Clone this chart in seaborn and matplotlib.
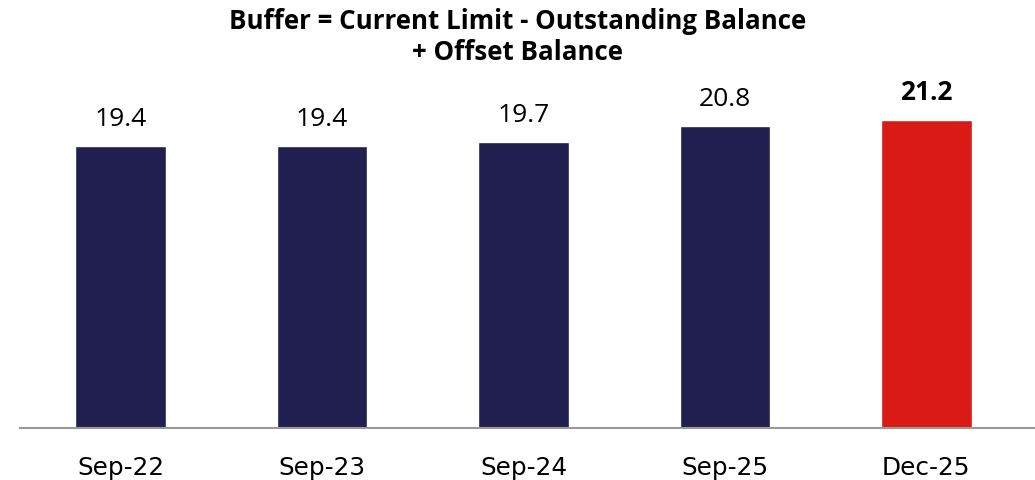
import matplotlib
matplotlib.use("Agg")
import matplotlib.pyplot as plt
import seaborn as sns
import pandas as pd

categories = ["Sep-22", "Sep-23", "Sep-24", "Sep-25", "Dec-25"]
values = [19.4, 19.4, 19.7, 20.8, 21.2]
labels = ["19.4", "19.4", "19.7", "20.8", "21.2"]
title_lines = ["Buffer = Current Limit - Outstanding Balance", "+ Offset Balance"]

sns.set_style("white")
plt.rcParams['font.family'] = ['Open Sans', 'DejaVu Sans']

navy = "#201F4F"
red = "#DA1A14"
colors = [navy, navy, navy, navy, red]

df = pd.DataFrame({"cat": categories, "val": values})

fig = plt.figure(figsize=(10.35, 4.8), dpi=100)
ax = fig.add_axes([20/1035, 52/480, 1 - 20/1035, (428-60)/480])
sns.barplot(data=df, x="cat", y="val", hue="cat", palette=colors, legend=False,
            width=0.45, saturation=1, ax=ax)

ymax = (428 - 60) / (282 / 19.4)
ax.set_ylim(0, ymax)
ax.set_xlim(-0.5, 4.54)

for i, (v, lab) in enumerate(zip(values, labels)):
    ax.annotate(lab, (i, v), xytext=(0, 14.5), textcoords="offset points",
                ha="center", va="baseline", fontsize=19,
                fontweight="bold" if i == len(values) - 1 else "normal",
                color="black")

for s in ["top", "right", "left"]:
    ax.spines[s].set_visible(False)
ax.spines["bottom"].set_color("#999999")
ax.spines["bottom"].set_linewidth(1.5)
ax.set_yticks([])
ax.set_xlabel("")
ax.set_ylabel("")
ax.tick_params(axis="x", length=0, pad=20, labelcolor="black")
for t in ax.get_xticklabels():
    t.set_fontfamily("DejaVu Sans")
    t.set_fontsize(17.8)

fig.text(0.5, 1 - 29/480, title_lines[0], ha="center", va="baseline", fontsize=18.6,
         fontweight="bold", color="black")
fig.text(0.5, 1 - 60/480, title_lines[1], ha="center", va="baseline", fontsize=18.6,
         fontweight="bold", color="black")

fig.savefig("out.png", dpi=100)
